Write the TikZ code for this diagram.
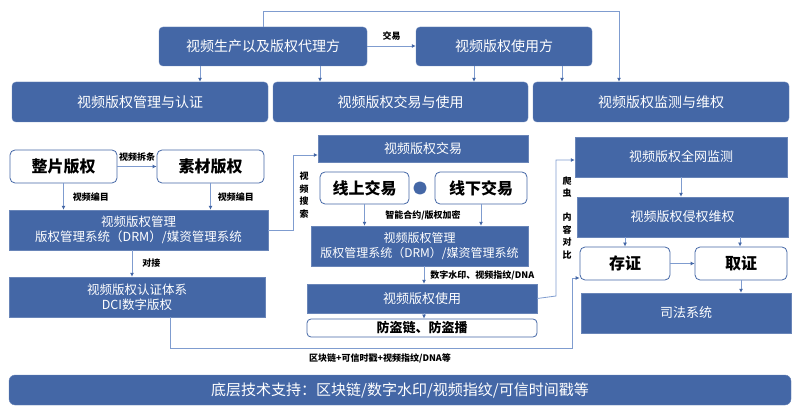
\documentclass[tikz,border=0pt]{standalone}
\usepackage{fontspec}
\setmainfont{Noto Sans CJK SC}
\usetikzlibrary{arrows.meta,shapes.geometric}
\definecolor{bl}{HTML}{4467A6}
\definecolor{ln}{HTML}{7F9CCF}
\begin{document}
\begin{tikzpicture}[x=1pt,y=-1pt,
 bx/.style={fill=bl,draw=bl!80!white,text=white,font=\fontsize{13}{15}\selectfont,align=center,inner sep=0pt},
 rb/.style={bx,rounded corners=4pt},
 wb/.style={draw=bl,line width=0.8pt,fill=white,rounded corners=5pt,text=black,font=\fontsize{16}{18}\selectfont\bfseries,inner sep=0pt},
 ar/.style={draw=ln,line width=0.8pt,-{Latex[length=4pt,width=4pt,color=bl]}},
 lb/.style={font=\fontsize{9}{11}\selectfont\bfseries,text=black,inner sep=0pt,align=center}]
\useasboundingbox (0,0) rectangle (800,411);
% boxes
\node[rb,minimum width=208,minimum height=39,font=\fontsize{14}{16}\selectfont] (t1) at (263,46.5) {视频生产以及版权代理方};
\node[rb,minimum width=176,minimum height=39,font=\fontsize{14}{16}\selectfont] (t2) at (504,46.5) {视频版权使用方};
\node[rb,minimum width=256,minimum height=40,font=\fontsize{14}{16}\selectfont] (A) at (140,102) {视频版权管理与认证};
\node[rb,minimum width=255,minimum height=40,font=\fontsize{14}{16}\selectfont] (B) at (400.5,102) {视频版权交易与使用};
\node[rb,minimum width=256,minimum height=40,font=\fontsize{14}{16}\selectfont] (C) at (661,102) {视频版权监测与维权};
\node[wb,minimum width=107,minimum height=33] (zp) at (63.5,166.5) {整片版权};
\node[wb,minimum width=107,minimum height=33] (sc) at (210.5,166.5) {素材版权};
\node[bx,minimum width=259,minimum height=40,font=\fontsize{12.5}{15}\selectfont] (m1) at (138.5,230) {视频版权管理\\版权管理系统（DRM）/媒资管理系统};
\node[bx,minimum width=256,minimum height=40,font=\fontsize{12.5}{15}\selectfont] (dci) at (137,297) {视频版权认证体系\\DCI数字版权};
\node[bx,minimum width=210,minimum height=27] (jy) at (423,148.5) {视频版权交易};
\node[wb,minimum width=89,minimum height=32] (xs) at (364.5,188) {线上交易};
\node[wb,minimum width=92,minimum height=32] (xx) at (481,188) {线下交易};
\node[regular polygon,regular polygon sides=8,fill=bl,rounded corners=2pt,minimum size=14pt,inner sep=0pt] (oc) at (420,188) {};
\node[bx,minimum width=217,minimum height=40,font=\fontsize{12}{14.5}\selectfont] (m2) at (419.5,246) {视频版权管理\\版权管理系统（DRM）/媒资管理系统};
\node[bx,minimum width=230,minimum height=29] (sy) at (422,298.5) {视频版权使用};
\node[wb,minimum width=230,minimum height=18,rounded corners=4pt,font=\fontsize{13}{15}\selectfont\bfseries] (fd) at (422,328) {防盗链、防盗播};
\node[bx,minimum width=212,minimum height=40] (jc) at (681,157) {视频版权全网监测};
\node[bx,minimum width=211,minimum height=40] (qq) at (682.5,217) {视频版权侵权维权};
\node[wb,minimum width=90,minimum height=33] (cz) at (625,263.5) {存证};
\node[wb,minimum width=92,minimum height=33] (qz) at (741,263.5) {取证};
\node[bx,minimum width=210,minimum height=40] (sf) at (686,313) {司法系统};
\node[rb,minimum width=782,minimum height=30,rounded corners=6pt,font=\fontsize{15}{17}\selectfont] (bt) at (400,390) {底层技术支持：区块链/数字水印/视频指纹/可信时间戳等};
% connectors
\draw[ar] (t1.east |- 0,46) -- (t2.west |- 0,46) node[lb,midway,above=5pt] {交易};
\draw[ar] (t1.south -| 200,0) -- (A.north -| 200,0);
\draw[ar] (t1.south -| 320,0) -- (B.north -| 320,0);
\draw[ar] (t2.south -| 474,0) -- (B.north -| 474,0);
\draw[ar] (t2.south -| 562,0) -- (C.north -| 562,0);
\draw[ar] (t1.north) -- (263,11) -| (C.north -| 619,0);
\draw[ar] (zp.east) -- (sc.west) node[lb,midway,above=5pt] {视频拆条};
\draw[ar] (zp.south) -- (m1.north -| zp.south) node[lb,midway,right=9pt] {视频编目};
\draw[ar] (sc.south) -- (m1.north -| sc.south) node[lb,midway,right=7pt] {视频编目};
\draw[ar] (m1.south -| 132,0) -- (dci.north -| 132,0) node[lb,midway,right=10pt] {对接};
\draw[ar] (m1.east) -- (293,230) |- (jy.west |- 0,155);
\node[lb,font=\fontsize{9}{12.5}\selectfont\bfseries] (vs) at (304,195) {视\\频\\搜\\索};
\draw[ar] (xs.south) -- (m2.north -| xs.south);
\draw[ar] (xx.south) -- (m2.north -| xx.south);
\node[lb] (zn) at (423,215) {智能合约/版权加密};
\draw[ar] (m2.south -| 424,0) -- (sy.north -| 424,0) node[lb,midway,right=6pt] {数字水印、视频指纹/DNA};
\draw[ar] (sy.south -| 424,0) -- (fd.north -| 424,0);
\draw[ar] (sy.east) -- (556,296) |- (jc.west |- 0,160);
\node[lb,font=\fontsize{9}{12.5}\selectfont\bfseries] (pc) at (567,187) {爬\\虫};
\node[lb,font=\fontsize{9}{12.5}\selectfont\bfseries] (nr) at (567,236) {内\\容\\对\\比};
\draw[ar] (jc.south -| 681,0) -- (qq.north -| 681,0);
\draw[ar] (qq.south -| cz.north) -- (cz.north);
\draw[ar] (qq.south -| 740,0) -- (qz.north -| 740,0);
\draw[ar] (cz.east) -- (qz.west);
\draw[ar] (qz.south) -- (sf.north -| qz.south);
\draw[ar] (dci.south -| 170,0) -- (170,348) -- (572,348) |- (cz.west |- 0,278);
\node[lb] (qk) at (380,358) {区块链+可信时戳+视频指纹/DNA等};
\end{tikzpicture}
\end{document}
